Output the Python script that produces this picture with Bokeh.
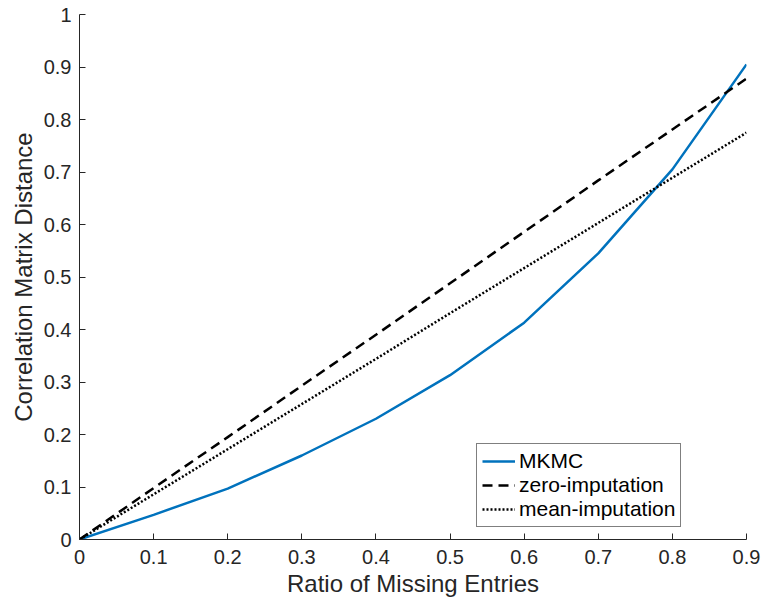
from bokeh.plotting import figure
from bokeh.models import Range1d, Legend, LegendItem, FixedTicker
from bokeh.embed import file_html
from bokeh.resources import INLINE

ratio = [0.0, 0.1, 0.2, 0.3, 0.4, 0.5, 0.6, 0.7, 0.8, 0.9]
mkmc = [0.0, 0.047, 0.097, 0.160, 0.230, 0.313, 0.413, 0.545, 0.705, 0.905]
zero_imp = [0.0, 0.098, 0.195, 0.293, 0.390, 0.488, 0.586, 0.684, 0.781, 0.878]
mean_imp = [0.0, 0.086, 0.172, 0.258, 0.344, 0.431, 0.517, 0.603, 0.689, 0.775]

x_ticks = [0, 0.1, 0.2, 0.3, 0.4, 0.5, 0.6, 0.7, 0.8, 0.9]
y_ticks = [0, 0.1, 0.2, 0.3, 0.4, 0.5, 0.6, 0.7, 0.8, 0.9, 1.0]

FONT = "Liberation Sans"
AX = "#262626"

p = figure(width=761, height=606, output_backend="svg", toolbar_location=None,
           x_range=Range1d(0, 0.9), y_range=Range1d(0, 1),
           min_border_left=79, min_border_right=15, min_border_top=14, min_border_bottom=67)
p.outline_line_color = None
p.xgrid.visible = False
p.ygrid.visible = False

r1 = p.line(ratio, mkmc, line_color="#0072BD", line_width=2.5)
r2 = p.line(ratio, zero_imp, line_color="black", line_width=2.5, line_dash="10 6")
r3 = p.line(ratio, mean_imp, line_color="black", line_width=2.5, line_dash="2 2")

for ax, ticks in ((p.xaxis, x_ticks), (p.yaxis, y_ticks)):
    ax.ticker = FixedTicker(ticks=ticks)
    ax.axis_line_color = AX
    ax.major_tick_line_color = AX
    ax.major_tick_in = 6
    ax.major_tick_out = 0
    ax.minor_tick_line_color = None
    ax.major_label_text_font = FONT
    ax.major_label_text_font_size = "20px"
    ax.major_label_text_color = AX
    ax.axis_label_text_font = FONT
    ax.axis_label_text_font_size = "24px"
    ax.axis_label_text_color = AX
    ax.axis_label_text_font_style = "normal"

p.xaxis.major_label_overrides = {0: "0", 0.1: "0.1", 0.2: "0.2", 0.3: "0.3", 0.4: "0.4",
                                 0.5: "0.5", 0.6: "0.6", 0.7: "0.7", 0.8: "0.8", 0.9: "0.9"}
p.yaxis.major_label_overrides = {0: "0", 1.0: "1"}
p.xaxis.axis_label = "Ratio of Missing Entries"
p.yaxis.axis_label = "Correlation Matrix Distance"
p.xaxis.major_label_standoff = 10
p.yaxis.major_label_standoff = 8
p.xaxis.axis_label_standoff = 3
p.yaxis.axis_label_standoff = 4

legend = Legend(items=[LegendItem(label="MKMC", renderers=[r1]),
                       LegendItem(label="zero-imputation", renderers=[r2]),
                       LegendItem(label="mean-imputation", renderers=[r3])],
                location=(397, 12))
legend.border_line_color = "black"
legend.border_line_width = 1
legend.background_fill_color = "white"
legend.background_fill_alpha = 1
legend.label_text_font = FONT
legend.label_text_font_size = "21px"
legend.label_text_color = "black"
legend.glyph_width = 33
legend.glyph_height = 22
legend.label_height = 22
legend.spacing = 0
legend.padding = 5
legend.margin = 0
legend.label_standoff = 4
p.add_layout(legend, "center")

open("out.html", "w").write(file_html(p, INLINE))
